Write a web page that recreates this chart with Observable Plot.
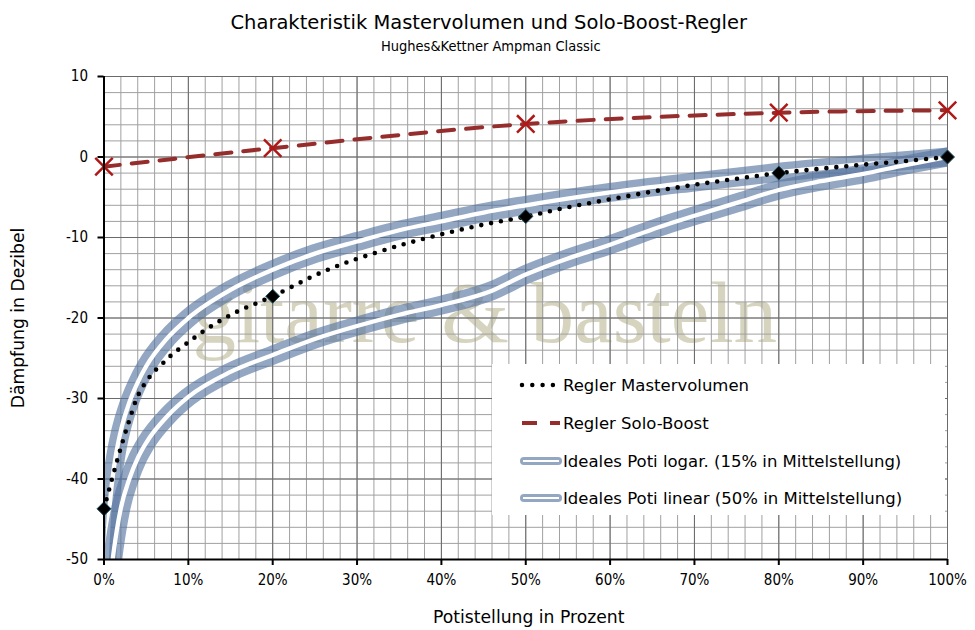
<!DOCTYPE html>
<html><head><meta charset="utf-8">
<script src="https://cdn.jsdelivr.net/npm/d3@7"></script>
<script src="https://cdn.jsdelivr.net/npm/@observablehq/plot@0.6"></script>
<style>body{margin:0;background:#fff}</style>
</head><body><div id="chart"></div>
<script>
const FONT_C = '"DejaVu Sans Condensed", "DejaVu Sans", sans-serif';
const FONT = '"DejaVu Sans", sans-serif';

// Marker positions (potentiometer setting in %)
const markerPos = [0, 20, 50, 80, 100];
const masterMarkers = [-43.7, -17.3, -7.4, -2.0, 0];
const boostMarkers = [-1.2, 1.1, 4.1, 5.5, 5.8];

// Dotted master-volume curve
const masterPos  = [0, 1, 2, 3, 4, 5, 6, 7, 8, 10, 12, 14, 16, 18, 20, 22.5, 25, 27.5, 30, 35, 40, 45, 50, 55, 60, 65, 70, 75, 80, 85, 90, 95, 100];
const masterVals = [-43.7, -39.8, -36.1, -32.7, -29.7, -27.9, -26.6, -25.6, -24.6, -23.0, -21.5, -20.2, -19.1, -18.2, -17.3, -16.0, -14.7, -13.6, -12.65, -11.0, -9.6, -8.4, -7.4, -6.25, -5.25, -4.3, -3.45, -2.7, -2.0, -1.45, -0.95, -0.5, 0];

// Ideal linear pot (50% in middle)
const linPos  = [0.25, 0.5, 1, 1.5, 2, 3, 4, 5, 7.5, 10, 15, 20, 25, 30, 35, 40, 45, 50, 60, 70, 80, 90, 100];
const linVals = [-52, -46, -40, -36.5, -34, -30.5, -28, -26, -22.5, -20, -16.5, -14, -12, -10.5, -9.1, -8, -6.9, -6, -4.4, -3.1, -1.9, -0.9, 0];

// Ideal log pot (15% in middle)
const logPos  = [0.7, 1, 1.5, 2, 3, 4, 5, 7.5, 10, 15, 20, 25, 30, 35, 40, 46, 50, 55, 60, 65, 70, 75, 80, 85, 90, 95, 100];
const logVals = [-53.5, -50.3, -46.5, -43.6, -40.0, -37.4, -35.5, -32.2, -29.8, -26.7, -24.6, -22.6, -21, -19.6, -18.4, -16.6, -14.6, -12.6, -10.9, -9.0, -7.3, -5.7, -4.1, -3.0, -2.1, -1.0, 0];

const xTicks = [0, 10, 20, 30, 40, 50, 60, 70, 80, 90, 100];
const yTicks = [10, 0, -10, -20, -30, -40, -50];
const xMinor = d3.range(0, 101, 2);
const yMinor = d3.range(-50, 11, 2);

const legendItems = [
  "Regler Mastervolumen",
  "Regler Solo-Boost",
  "Ideales Poti logar. (15% in Mittelstellung)",
  "Ideales Poti linear (50% in Mittelstellung)"
];

const toRows = (xs, ys) => xs.map((x, i) => ({x, y: ys[i]}));
const master = toRows(masterPos, masterVals);
const masterM = toRows(markerPos, masterMarkers);
const boost = toRows(markerPos, boostMarkers);
const lin = toRows(linPos, linVals);
const log = toRows(logPos, logVals);

const BLUE = "#56739f";
const BLUE_OP = 0.64;
const BAND_W = 19;
const GAP_W = 4.3;
const RED = "#962d2d";

function band(data) {
  return [
    Plot.line(data, {x: "x", y: "y", stroke: BLUE, strokeOpacity: BLUE_OP, strokeWidth: BAND_W, curve: "monotone-x", clip: true}),
    Plot.line(data, {x: "x", y: "y", stroke: "white", strokeWidth: GAP_W, curve: "monotone-x", clip: true})
  ];
}

function legendMark() {
  const g = d3.create("svg:g").attr("font-family", FONT).attr("font-size", 16.5).attr("text-anchor", "start");
  g.append("rect").attr("x", 492).attr("y", 364).attr("width", 453).attr("height", 151).attr("fill", "white");
  const x0 = 522, x1 = 560, tx = 563;
  const ys = [385, 423, 461, 498];
  g.append("line").attr("x1", x0).attr("x2", x1 - 2).attr("y1", ys[0]).attr("y2", ys[0])
    .attr("stroke", "black").attr("stroke-width", 4.5).attr("stroke-linecap", "round").attr("stroke-dasharray", "0,10.3");
  g.append("line").attr("x1", x0).attr("x2", x1).attr("y1", ys[1]).attr("y2", ys[1])
    .attr("stroke", RED).attr("stroke-width", 4).attr("stroke-dasharray", "15,13");
  for (const k of [2, 3]) {
    g.append("line").attr("x1", x0 + 2).attr("x2", x1 - 2).attr("y1", ys[k]).attr("y2", ys[k])
      .attr("stroke", BLUE).attr("stroke-opacity", BLUE_OP).attr("stroke-width", 8).attr("stroke-linecap", "round");
    g.append("line").attr("x1", x0 + 1).attr("x2", x1 - 1).attr("y1", ys[k]).attr("y2", ys[k])
      .attr("stroke", "white").attr("stroke-width", 2);
  }
  legendItems.forEach((t, i) => {
    g.append("text").attr("x", tx).attr("y", ys[i]).attr("dy", "0.36em").attr("fill", "black").text(t);
  });
  return g.node();
}

const plot = Plot.plot({
  width: 975,
  height: 630,
  marginLeft: 103.5,
  marginRight: 28,
  marginTop: 76,
  marginBottom: 71,
  x: {domain: [0, 100], axis: null},
  y: {domain: [-50, 10], axis: null},
  style: {fontFamily: FONT_C, background: "white", overflow: "visible"},
  marks: [
    Plot.text(["gitarre & basteln"], {frameAnchor: "middle", lineAnchor: "middle", dx: -41, dy: -4, fontSize: 87, fontFamily: '"Liberation Serif", "DejaVu Serif", serif', fill: "#d6d4be"}),
    Plot.ruleX(xMinor, {stroke: "#a0a0a0", strokeWidth: 1}),
    Plot.ruleY(yMinor, {stroke: "#a0a0a0", strokeWidth: 1}),
    Plot.ruleX(xTicks, {stroke: "#6a6a6a", strokeWidth: 1}),
    Plot.ruleY(yTicks, {stroke: "#6a6a6a", strokeWidth: 1}),
    ...band(lin),
    ...band(log),
    Plot.line(boost, {x: "x", y: "y", stroke: RED, strokeWidth: 4, strokeDasharray: "16,12", curve: "catmull-rom"}),
    Plot.line(master, {x: "x", y: "y", stroke: "black", strokeWidth: 4.6, strokeDasharray: "0,10", strokeLinecap: "round", curve: "catmull-rom"}),
    Plot.dot(masterM, {x: "x", y: "y", symbol: "diamond2", r: 6.3, fill: "black", stroke: "#1d4f5c", strokeWidth: 1}),
    Plot.dot(boost, {x: "x", y: "y", symbol: "times", r: 8, stroke: "#b01818", strokeWidth: 2.5}),
    Plot.ruleX([0], {stroke: "black", strokeWidth: 2}),
    Plot.ruleY([-50], {stroke: "black", strokeWidth: 2}),
    Plot.axisX({ticks: xTicks, tickFormat: d => d + "%", label: null, tickSize: 6, tickPadding: 9, fontSize: 15, stroke: "black", strokeWidth: 2, color: "black"}),
    Plot.axisY({ticks: yTicks, tickFormat: d => String(d), label: null, tickSize: 6, tickPadding: 10, fontSize: 15, stroke: "black", strokeWidth: 2, color: "black"}),
    legendMark,
    Plot.text(["Charakteristik Mastervolumen und Solo-Boost-Regler"], {frameAnchor: "top", lineAnchor: "middle", dx: -37, dy: -54, fontSize: 19.5, fontFamily: FONT, fill: "black"}),
    Plot.text(["Hughes&Kettner Ampman Classic"], {frameAnchor: "top", lineAnchor: "middle", dx: -35, dy: -30, fontSize: 14.5, fill: "black"}),
    Plot.text(["Dämpfung in Dezibel"], {frameAnchor: "left", textAnchor: "middle", lineAnchor: "middle", dx: -85.5, dy: 0, rotate: -90, fontSize: 17.2, fontFamily: FONT, fill: "black"}),
    Plot.text(["Potistellung in Prozent"], {frameAnchor: "bottom", textAnchor: "middle", lineAnchor: "middle", dx: 3, dy: 58, fontSize: 17.2, fontFamily: FONT, fill: "black"})
  ]
});
document.getElementById("chart").append(plot);
</script>
</body></html>
